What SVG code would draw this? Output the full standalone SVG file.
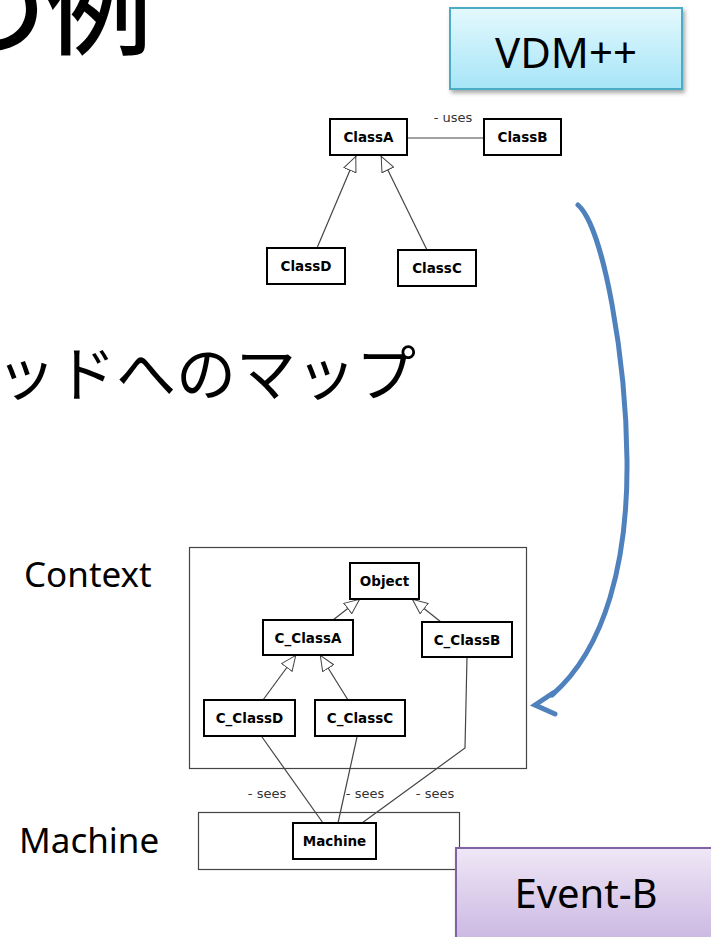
<svg xmlns="http://www.w3.org/2000/svg" width="711" height="937" viewBox="0 0 711 937">
<style>
.ttl{font-family:"Noto Sans CJK JP","Noto Sans",sans-serif;fill:#000}
.lbl{font-family:"Noto Sans","Open Sans",sans-serif;fill:#000}
.cls{fill:#fff;stroke:#000;stroke-width:2}
.ct{font-family:"DejaVu Sans",sans-serif;font-weight:bold;font-size:13.5px;text-anchor:middle;fill:#000}
.el{font-family:"DejaVu Sans",sans-serif;font-size:13px;text-anchor:middle;fill:#333}
.ln{stroke:#444;stroke-width:1.2;fill:none}
.gen{stroke:#444;stroke-width:1.2;fill:none;marker-end:url(#tri)}
.frame{fill:#fff;stroke:#444;stroke-width:1.2}
</style>
<defs>
<marker id="tri" viewBox="0 0 16 14" refX="16" refY="7" markerWidth="16" markerHeight="14" markerUnits="userSpaceOnUse" orient="auto">
<path d="M0.5,0.5 L15.5,7 L0.5,13.5 Z" fill="#fff" stroke="#444" stroke-width="1"/>
</marker>
<linearGradient id="gv" x1="0" y1="0" x2="0" y2="1">
<stop offset="0" stop-color="#e4f9fd"/><stop offset="1" stop-color="#a6e5f7"/>
</linearGradient>
<linearGradient id="ge" x1="0" y1="0" x2="0" y2="1">
<stop offset="0" stop-color="#efe7f6"/><stop offset="1" stop-color="#c8b4e0"/>
</linearGradient>
<filter id="sh" x="-10%" y="-10%" width="130%" height="140%">
<feDropShadow dx="2" dy="3" stdDeviation="2" flood-color="#000" flood-opacity="0.35"/>
</filter>
</defs>
<rect width="711" height="937" fill="#fff"/>

<g id="title">
<text class="ttl" x="-60" y="46" font-size="106" font-weight="500">の例</text>
</g>
<g id="subtitle">
<text class="ttl" x="-4" y="396" font-size="60">ッドへのマップ</text>
</g>

<g id="vdm">
<rect x="450" y="8" width="232" height="81" fill="url(#gv)" stroke="#4bacc6" stroke-width="2" filter="url(#sh)"/>
<text class="lbl" x="566" y="68" font-size="42" text-anchor="middle">VDM++</text>
</g>

<g id="labels">
<text class="lbl" x="24" y="587" font-size="35">Context</text>
<text class="lbl" x="19" y="853" font-size="35">Machine</text>
</g>

<g id="frames">
<rect id="contextFrame" class="frame" x="189.5" y="547.5" width="337" height="221"/>
<rect id="machineFrame" class="frame" x="198.5" y="812.5" width="261" height="57"/>
</g>

<g id="connectors">
<line class="ln" x1="407" y1="138" x2="484" y2="138"/>
<text class="el" x="453" y="122">- uses</text>
<line class="gen" x1="317" y1="248" x2="356" y2="156"/>
<line class="gen" x1="427" y1="250" x2="381" y2="156"/>
<line class="gen" x1="333" y1="620" x2="360" y2="599"/>
<line class="gen" x1="441" y1="622" x2="412" y2="599"/>
<line class="gen" x1="263" y1="700" x2="296" y2="655"/>
<line class="gen" x1="348" y1="700" x2="320" y2="655"/>
<line class="ln" x1="262" y1="737" x2="323" y2="823"/>
<line class="ln" x1="357" y1="737" x2="338" y2="823"/>
<polyline class="ln" points="467,657 465,748 362,823"/>
<text class="el" x="267" y="798">- sees</text>
<text class="el" x="365" y="798">- sees</text>
<text class="el" x="435" y="798">- sees</text>
<path d="M578,205 C604,228 626,360 627,460 C628,560 606,648 552,695" fill="none" stroke="#4f81bd" stroke-width="5" stroke-linecap="round"/>
<polyline points="553,693 535,705 555,714" fill="none" stroke="#4f81bd" stroke-width="5" stroke-linecap="round" stroke-linejoin="miter"/>
</g>

<g id="ClassA"><rect class="cls" x="330" y="119" width="77" height="36"/><text class="ct" x="368.5" y="142">ClassA</text></g>
<g id="ClassB"><rect class="cls" x="484" y="119" width="77" height="36"/><text class="ct" x="522.5" y="142">ClassB</text></g>
<g id="ClassD"><rect class="cls" x="267" y="248" width="78" height="36"/><text class="ct" x="306" y="271">ClassD</text></g>
<g id="ClassC"><rect class="cls" x="398" y="250" width="78" height="36"/><text class="ct" x="437" y="273">ClassC</text></g>

<g id="Object"><rect class="cls" x="350" y="563" width="69" height="36"/><text class="ct" x="384.5" y="586">Object</text></g>
<g id="C_ClassA"><rect class="cls" x="263" y="620" width="90" height="35"/><text class="ct" x="308" y="643">C_ClassA</text></g>
<g id="C_ClassB"><rect class="cls" x="422" y="622" width="90" height="35"/><text class="ct" x="467" y="645">C_ClassB</text></g>
<g id="C_ClassD"><rect class="cls" x="204" y="700" width="91" height="36"/><text class="ct" x="249.5" y="723">C_ClassD</text></g>
<g id="C_ClassC"><rect class="cls" x="315" y="700" width="90" height="36"/><text class="ct" x="360" y="723">C_ClassC</text></g>
<g id="Machine"><rect class="cls" x="293" y="823" width="83" height="36"/><text class="ct" x="334.5" y="846">Machine</text></g>

<g id="eventb">
<rect x="456" y="848" width="262" height="100" fill="url(#ge)" stroke="#8064a2" stroke-width="2" filter="url(#sh)"/>
<text class="lbl" x="586" y="908" font-size="40" text-anchor="middle">Event-B</text>
</g>
</svg>
